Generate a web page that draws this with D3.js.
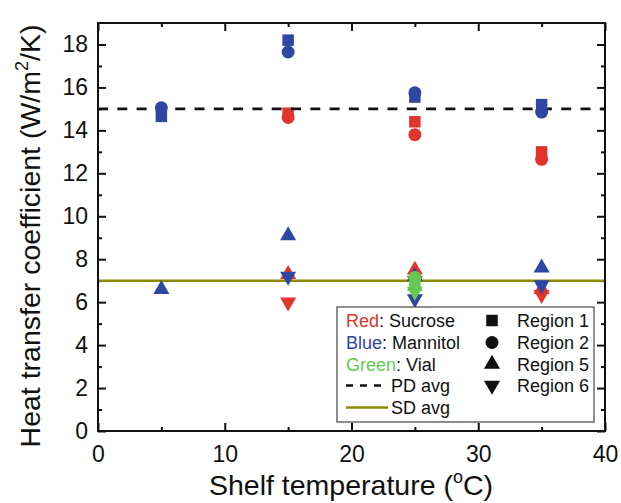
<!DOCTYPE html>
<html><head><meta charset="utf-8">
<script src="https://cdn.jsdelivr.net/npm/d3@7"></script>
<style>body{margin:0;background:#fff}svg{display:block;font-family:"Liberation Sans",Arial,sans-serif}</style>
</head><body><svg id="c" width="621" height="503"></svg>
<script>
// ---- data ----
const sucroseTemps = [15, 25, 35];
const sucroseR1 = [14.8, 14.4, 13.0];
const sucroseR2 = [14.6, 13.8, 12.65];
const sucroseR5 = [7.3, 7.5, 6.6];
const sucroseR6 = [6.0, 7.0, 6.35];
const mannitolTemps = [5, 15, 25, 35];
const mannitolR1 = [14.65, 18.2, 15.55, 15.2];
const mannitolR2 = [15.05, 17.65, 15.75, 14.85];
const mannitolR5 = [6.6, 9.1, 7.2, 7.6];
const mannitolR6 = [null, 7.2, 6.15, 6.8];
const vialTemps = [25];
const vialR1 = [6.9];
const vialR2 = [7.15];
const vialR5 = [6.75];
const vialR6 = [6.5];
const pdAvg = 15;
const sdAvg = 7;
const xTicks = [0, 10, 20, 30, 40];
const yTicks = [0, 2, 4, 6, 8, 10, 12, 14, 16, 18];

const colors = {sucrose: "#e2342b", mannitol: "#2f46a3", vial: "#63c94f"};
const olive = "#8c8a00";

const svg = d3.select("#c");
const L = 98, R = 605, T = 23, B = 431;
const x = d3.scaleLinear().domain([0, 40]).range([L, R]);
const y = d3.scaleLinear().domain([0, 19]).range([B, T]);
const tickFont = 23;

const axG = svg.append("g");
function styleAxis(g) {
  g.select(".domain").remove();
  g.selectAll("line").attr("stroke", "#111").attr("stroke-width", 2);
}
function styleText(g) {
  g.selectAll("text").attr("font-size", tickFont).attr("fill", "#111").attr("font-family", "Liberation Sans, Arial");
}
axG.append("g").attr("transform", `translate(0,${B})`)
  .call(d3.axisBottom(x).tickValues(xTicks).tickSize(-8).tickFormat(d3.format("d")).tickPadding(15))
  .call(styleAxis).call(styleText);
axG.append("g").attr("transform", `translate(0,${B})`)
  .call(d3.axisBottom(x).tickValues([5, 15, 25, 35]).tickSize(-4).tickFormat(""))
  .call(styleAxis);
axG.append("g").attr("transform", `translate(0,${T})`)
  .call(d3.axisTop(x).tickValues(xTicks).tickSize(-8).tickFormat(""))
  .call(styleAxis);
axG.append("g").attr("transform", `translate(0,${T})`)
  .call(d3.axisTop(x).tickValues([5, 15, 25, 35]).tickSize(-4).tickFormat(""))
  .call(styleAxis);
axG.append("g").attr("transform", `translate(${L},0)`)
  .call(d3.axisLeft(y).tickValues(yTicks).tickSize(-8).tickFormat(d3.format("d")).tickPadding(10))
  .call(styleAxis).call(styleText);
axG.append("g").attr("transform", `translate(${L},0)`)
  .call(d3.axisLeft(y).tickValues(d3.range(1, 19, 2)).tickSize(-4).tickFormat(""))
  .call(styleAxis);
axG.append("g").attr("transform", `translate(${R},0)`)
  .call(d3.axisRight(y).tickValues(yTicks).tickSize(-8).tickFormat(""))
  .call(styleAxis);
axG.append("g").attr("transform", `translate(${R},0)`)
  .call(d3.axisRight(y).tickValues(d3.range(1, 19, 2)).tickSize(-4).tickFormat(""))
  .call(styleAxis);

const sym = {
  r1: d3.symbol().type(d3.symbolSquare).size(132)(),
  r2: d3.symbol().type(d3.symbolCircle).size(133)(),
  r5: d3.symbol().type(d3.symbolTriangle).size(112)(),
  r6: d3.symbol().type(d3.symbolTriangle).size(112)()
};
function drawSeries(temps, vals, key, color) {
  const pts = temps.map((t, i) => ({t, v: vals[i]})).filter(d => d.v != null);
  svg.append("g").selectAll("path").data(pts).join("path")
    .attr("d", sym[key])
    .attr("transform", d => `translate(${x(d.t)},${y(d.v)})` + (key === "r6" ? " rotate(180)" : ""))
    .attr("fill", color);
}
function drawGroup(temps, arrs, color) {
  drawSeries(temps, arrs[0], "r1", color);
  drawSeries(temps, arrs[1], "r2", color);
  drawSeries(temps, arrs[2], "r5", color);
  drawSeries(temps, arrs[3], "r6", color);
}
drawGroup(sucroseTemps, [sucroseR1, sucroseR2, sucroseR5, sucroseR6], colors.sucrose);

svg.append("line").attr("x1", x(0)).attr("x2", x(40)).attr("y1", y(pdAvg)).attr("y2", y(pdAvg))
  .attr("stroke", "#111").attr("stroke-width", 2.6).attr("stroke-dasharray", "10,9.3");
svg.append("line").attr("x1", x(0)).attr("x2", x(40)).attr("y1", y(sdAvg)).attr("y2", y(sdAvg))
  .attr("stroke", olive).attr("stroke-width", 2.6);

drawGroup(mannitolTemps, [mannitolR1, mannitolR2, mannitolR5, mannitolR6], colors.mannitol);
drawGroup(vialTemps, [vialR1, vialR2, vialR5, vialR6], colors.vial);

svg.append("rect").attr("x", L).attr("y", T).attr("width", R - L).attr("height", B - T)
  .attr("fill", "none").attr("stroke", "#111").attr("stroke-width", 2);

// legend
const lg = svg.append("g");
lg.append("rect").attr("x", 337).attr("y", 307).attr("width", 257).attr("height", 115)
  .attr("fill", "#fff").attr("stroke", "#444").attr("stroke-width", 1.2);
const rowY = [327, 349, 370.5, 392, 414];
const fs = 18;
const leftItems = [["Red", ": Sucrose", colors.sucrose], ["Blue", ": Mannitol", colors.mannitol], ["Green", ": Vial", colors.vial]];
leftItems.forEach((it, i) => {
  const t = lg.append("text").attr("x", 346).attr("y", rowY[i]).attr("font-size", fs).attr("fill", "#111");
  t.append("tspan").attr("fill", it[2]).text(it[0]);
  t.append("tspan").text(it[1]);
});
lg.append("line").attr("x1", 346).attr("x2", 388).attr("y1", rowY[3] - 6.5).attr("y2", rowY[3] - 6.5)
  .attr("stroke", "#111").attr("stroke-width", 2.4).attr("stroke-dasharray", "7,7");
lg.append("text").attr("x", 391).attr("y", rowY[3]).attr("font-size", fs).attr("fill", "#111").text("PD avg");
lg.append("line").attr("x1", 346).attr("x2", 388).attr("y1", rowY[4] - 6.5).attr("y2", rowY[4] - 6.5)
  .attr("stroke", olive).attr("stroke-width", 2.4);
lg.append("text").attr("x", 391).attr("y", rowY[4]).attr("font-size", fs).attr("fill", "#111").text("SD avg");
const regionLabels = ["Region 1", "Region 2", "Region 5", "Region 6"];
const regionKeys = ["r1", "r2", "r5", "r6"];
regionLabels.forEach((lab, i) => {
  lg.append("path").attr("d", sym[regionKeys[i]])
    .attr("transform", `translate(492,${rowY[i] - 6.5})` + (regionKeys[i] === "r6" ? " rotate(180)" : ""))
    .attr("fill", "#111");
  lg.append("text").attr("x", 589).attr("y", rowY[i]).attr("text-anchor", "end")
    .attr("font-size", fs).attr("fill", "#111").text(lab);
});

// axis titles
const xt = svg.append("text").attr("x", 351).attr("y", 495).attr("text-anchor", "middle")
  .attr("font-size", 28.5).attr("fill", "#111");
xt.append("tspan").text("Shelf temperature (");
xt.append("tspan").attr("font-size", 18).attr("dy", -12).text("o");
xt.append("tspan").attr("dy", 12).text("C)");
const yt = svg.append("text").attr("transform", `translate(40,236) rotate(-90)`)
  .attr("text-anchor", "middle").attr("font-size", 28.5).attr("fill", "#111");
yt.append("tspan").text("Heat transfer coefficient (W/m");
yt.append("tspan").attr("font-size", 18).attr("dy", -12).text("2");
yt.append("tspan").attr("dy", 12).text("/K)");
</script></body></html>
